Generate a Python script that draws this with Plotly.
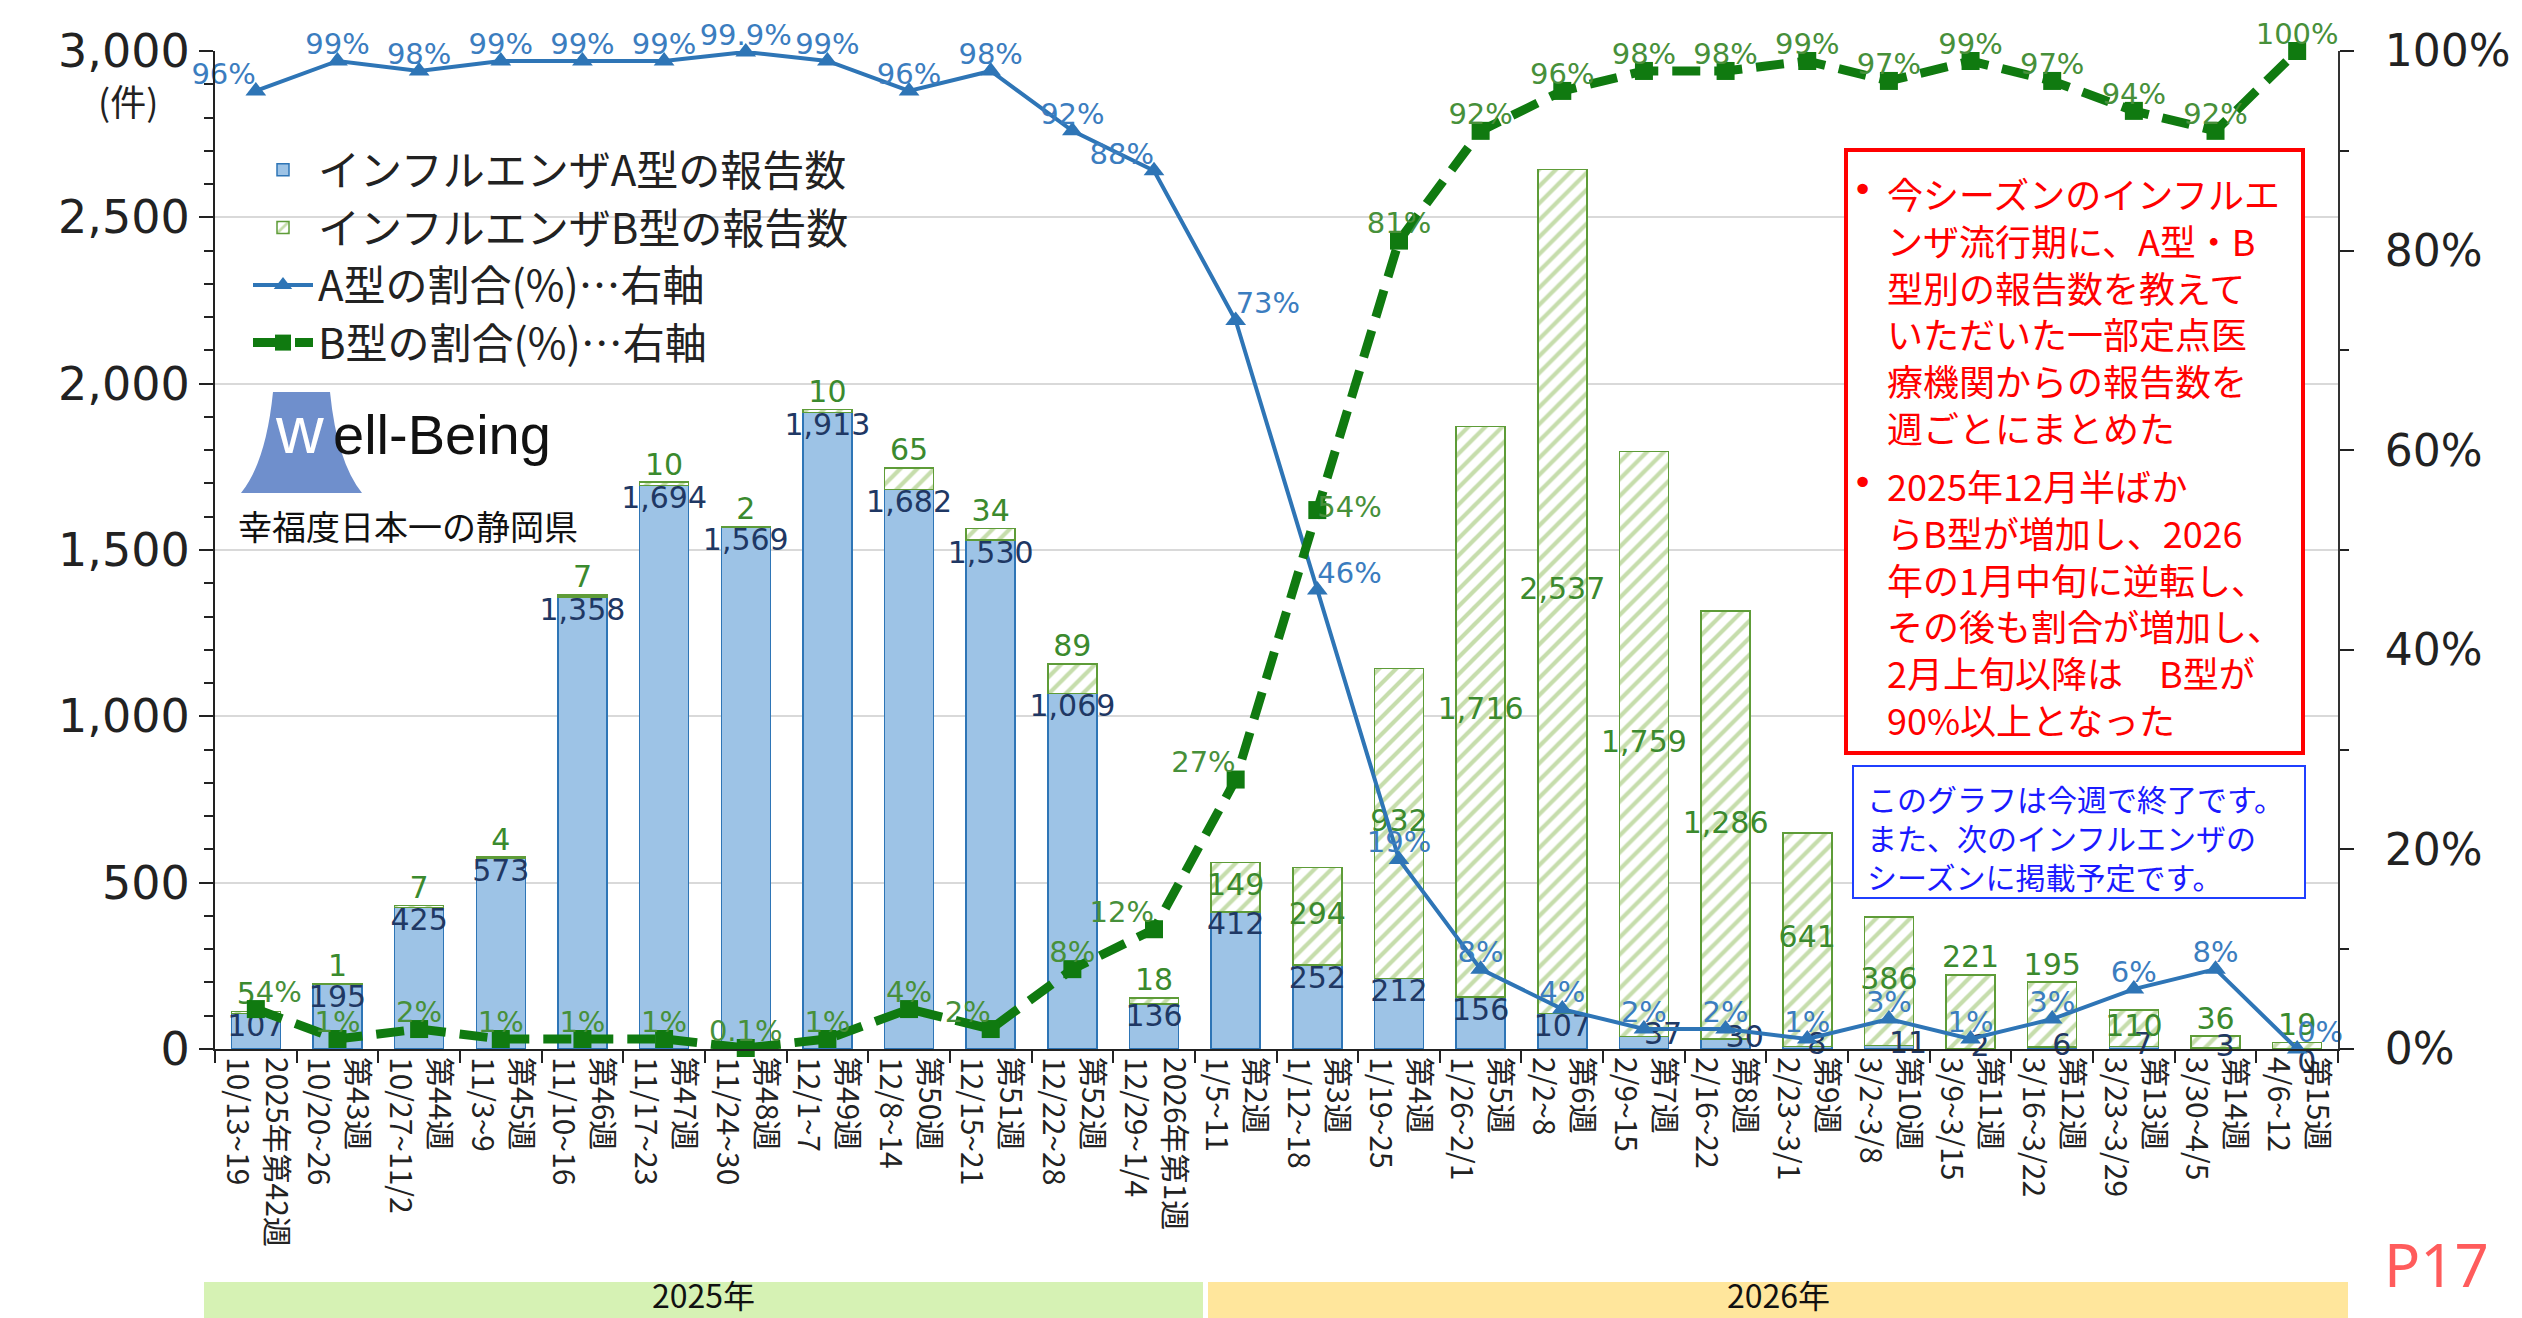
import plotly.graph_objects as go

# ---------------- data ----------------
week_labels = ["2025年第42週", "第43週", "第44週", "第45週", "第46週", "第47週", "第48週",
               "第49週", "第50週", "第51週", "第52週", "2026年第1週", "第2週", "第3週",
               "第4週", "第5週", "第6週", "第7週", "第8週", "第9週", "第10週", "第11週",
               "第12週", "第13週", "第14週", "第15週"]
date_labels = ["10/13~19", "10/20~26", "10/27~11/2", "11/3~9", "11/10~16", "11/17~23",
               "11/24~30", "12/1~7", "12/8~14", "12/15~21", "12/22~28", "12/29~1/4",
               "1/5~11", "1/12~18", "1/19~25", "1/26~2/1", "2/2~8", "2/9~15", "2/16~22",
               "2/23~3/1", "3/2~3/8", "3/9~3/15", "3/16~3/22", "3/23~3/29", "3/30~4/5",
               "4/6~12"]
a_counts = [107, 195, 425, 573, 1358, 1694, 1569, 1913, 1682, 1530, 1069, 136, 412, 252,
            212, 156, 107, 37, 30, 8, 11, 2, 6, 7, 3, 0]
b_counts = [5, 1, 7, 4, 7, 10, 2, 10, 65, 34, 89, 18, 149, 294, 932, 1716, 2537, 1759,
            1286, 641, 386, 221, 195, 110, 36, 19]
a_share = [96, 99, 98, 99, 99, 99, 99.9, 99, 96, 98, 92, 88, 73, 46, 19, 8, 4, 2, 2, 1,
           3, 1, 3, 6, 8, 0]
b_share = [4, 1, 2, 1, 1, 1, 0.1, 1, 4, 2, 8, 12, 27, 54, 81, 92, 96, 98, 98, 99, 97,
           99, 97, 94, 92, 100]
left_ticks = [0, 500, 1000, 1500, 2000, 2500, 3000]
right_ticks = [0, 20, 40, 60, 80, 100]

# ---------------- layout constants (screen pixels) ----------------
SW, SH = 2522, 1318          # browser window
OFF = 8                      # default page body margin
FW, FH = SW - OFF, SH - OFF  # figure size
L, R, T, B = 215, 2338, 51, 1049   # plot area on screen
JP = "Noto Sans CJK JP"
NUM = "DejaVu Sans"


def fx(x):
    return (x - L) / (R - L)


def fy(y):
    return (B - y) / (B - T)


cats = [f"{w}<br>{d}" for w, d in zip(week_labels, date_labels)]
n = len(cats)

# label placement styles (not data)
a_pct_pos = ["top center"] * n
for i, p in {0: "top left", 11: "top left", 12: "top right", 13: "top right",
             25: "top right"}.items():
    a_pct_pos[i] = p
b_pct_pos = ["top center"] * n
for i, p in {0: "top right", 9: "top left", 11: "top left", 12: "top left",
             13: "middle right"}.items():
    b_pct_pos[i] = p
b_label_mode = ["top"] * 12 + ["mid"] * 9 + ["top", "top", "mid", "top", "top"]

a_lab_y, a_lab_pos = [], []
for a in a_counts:
    if a >= 100:
        a_lab_y.append(a); a_lab_pos.append("bottom center")
    elif a > 0:
        a_lab_y.append(a); a_lab_pos.append("middle right")
    else:
        a_lab_y.append(0); a_lab_pos.append("bottom right")

b_lab_y, b_lab_pos = [], []
for a, b, m in zip(a_counts, b_counts, b_label_mode):
    if m == "mid":
        b_lab_y.append(a + b / 2); b_lab_pos.append("middle center")
    else:
        b_lab_y.append(a + b); b_lab_pos.append("top center")
b_lab_pos[0] = "top left"

fig = go.Figure()

fig.add_trace(go.Bar(
    x=cats, y=a_counts, name="インフルエンザA型の報告数",
    marker=dict(color="#9dc3e6", line=dict(color="#2e75b6", width=1.5)),
    hoverinfo="skip"))
fig.add_trace(go.Bar(
    x=cats, y=b_counts, name="インフルエンザB型の報告数",
    marker=dict(color="#ffffff", line=dict(color="#5e9c38", width=1.5),
                pattern=dict(shape="/", fgcolor="#8dbb5a", bgcolor="#ffffff",
                             size=12, solidity=0.35)),
    hoverinfo="skip"))

# bar value labels
fig.add_trace(go.Scatter(
    x=cats, y=a_lab_y, mode="text", text=[f"{v:,}" for v in a_counts],
    textposition=a_lab_pos, textfont=dict(family=NUM, size=30, color="#1f3864"),
    showlegend=False, cliponaxis=False, hoverinfo="skip"))
fig.add_trace(go.Scatter(
    x=cats, y=b_lab_y, mode="text", text=[f"{v:,}" for v in b_counts],
    textposition=b_lab_pos, textfont=dict(family=NUM, size=30, color="#3b8a2e"),
    showlegend=False, cliponaxis=False, hoverinfo="skip"))

# share lines
fig.add_trace(go.Scatter(
    x=cats, y=a_share, name="A型の割合(%)…右軸", yaxis="y2", mode="lines+markers",
    line=dict(color="#2e75b6", width=4),
    marker=dict(symbol="triangle-up", size=18, color="#2e75b6"),
    cliponaxis=False, hoverinfo="skip"))
fig.add_trace(go.Scatter(
    x=cats, y=b_share, name="B型の割合(%)…右軸", yaxis="y2", mode="lines+markers",
    line=dict(color="#107a10", width=9, dash="28px,14px"),
    marker=dict(symbol="square", size=18, color="#107a10"),
    cliponaxis=False, hoverinfo="skip"))

fig.add_trace(go.Scatter(
    x=cats, y=a_share, yaxis="y2", mode="text", text=[f"{v:g}%" for v in a_share],
    textposition=a_pct_pos, textfont=dict(family=NUM, size=29, color="#3b7dbf"),
    showlegend=False, cliponaxis=False, hoverinfo="skip"))
fig.add_trace(go.Scatter(
    x=cats, y=b_share, yaxis="y2", mode="text", text=[f"{v:g}%" for v in b_share],
    textposition=b_pct_pos, textfont=dict(family=NUM, size=29, color="#47903a"),
    showlegend=False, cliponaxis=False, hoverinfo="skip"))

shapes = []
annotations = []


def note(text, x, y, size, color, family=JP, xanchor="center", yanchor="middle",
         **kw):
    annotations.append(dict(text=text, xref="paper", yref="paper", x=fx(x), y=fy(y),
                            xanchor=xanchor, yanchor=yanchor, showarrow=False,
                            font=dict(family=family, size=size, color=color), **kw))


# year bands
shapes.append(dict(type="rect", xref="paper", yref="paper", x0=fx(204), x1=fx(1203),
                   y0=fy(1318), y1=fy(1282), fillcolor="#d6f2b4", line=dict(width=0),
                   layer="below"))
shapes.append(dict(type="rect", xref="paper", yref="paper", x0=fx(1208), x1=fx(2348),
                   y0=fy(1318), y1=fy(1282), fillcolor="#ffe69c", line=dict(width=0),
                   layer="below"))
note("2025年", 703, 1294, 32, "#111")
note("2026年", 1778, 1294, 32, "#111")

# P17
note("P17", 2436, 1264, 60, "#ff5c5c", family="Noto Sans")
# (件)
note("(件)", 128, 100, 36, "#222")

# logo
path = (f"M {fx(241)},{fy(493)} Q {fx(266)},{fy(462)} {fx(273)},{fy(392)} "
        f"L {fx(330)},{fy(392)} Q {fx(337)},{fy(462)} {fx(362)},{fy(493)} Z")
shapes.append(dict(type="path", xref="paper", yref="paper", path=path,
                   fillcolor="#6f8fcc", line=dict(width=0), layer="above"))
note("w", 299, 430, 66, "#ffffff", family="Liberation Sans")
note("ell-Being", 331, 434, 56, "#111", family="Liberation Sans", xanchor="left")
note("幸福度日本一の静岡県", 236, 525, 34, "#111", xanchor="left")

# red note box
shapes.append(dict(type="rect", xref="paper", yref="paper", x0=fx(1846), x1=fx(2303),
                   y0=fy(753), y1=fy(150), fillcolor="#ffffff",
                   line=dict(color="#ff0000", width=4), layer="above"))
red = "#ff0000"
para1 = ("今シーズンのインフルエ<br>ンザ流行期に、A型・B<br>型別の報告数を教えて<br>"
         "いただいた一部定点医<br>療機関からの報告数を<br>週ごとにまとめた")
para2 = ("2025年12月半ばか<br>らB型が増加し、2026<br>年の1月中旬に逆転し、<br>"
         "その後も割合が増加し、<br>2月上旬以降は　B型が<br>90%以上となった")
note(para1, 1886, 166, 36, red, xanchor="left", yanchor="top", align="left", borderpad=0)
note(para2, 1886, 458, 36, red, xanchor="left", yanchor="top", align="left", borderpad=0)
for yb in (190, 482):
    note("•", 1862, yb, 36, red, family=NUM)

# blue note box
shapes.append(dict(type="rect", xref="paper", yref="paper", x0=fx(1853), x1=fx(2305),
                   y0=fy(898), y1=fy(766), fillcolor="#ffffff",
                   line=dict(color="#1f3fff", width=2), layer="above"))
blue_txt = "このグラフは今週で終了です。<br>また、次のインフルエンザの<br>シーズンに掲載予定です。"
note(blue_txt, 1866, 775, 30, "#1a1aff", xanchor="left", yanchor="top", align="left",
     borderpad=0)

fig.update_layout(
    width=FW, height=FH,
    margin=dict(l=L - OFF, r=SW - R, t=T - OFF, b=SH - B, autoexpand=False),
    paper_bgcolor="#ffffff", plot_bgcolor="#ffffff",
    barmode="stack", bargap=0.4,
    font=dict(family=JP, color="#222"),
    showlegend=True,
    legend=dict(x=fx(248), y=fy(136), xanchor="left", yanchor="top",
                bgcolor="rgba(0,0,0,0)", traceorder="normal", itemwidth=60,
                font=dict(family=JP, size=42, color="#222"), tracegroupgap=0),
    xaxis=dict(type="category", range=[-0.5, n - 0.5], automargin=False,
               tickson="boundaries", ticks="outside", ticklen=12,
               tickwidth=2, tickcolor="#222", showline=True, linecolor="#222",
               linewidth=2, tickangle=90, showgrid=False,
               tickfont=dict(family=JP, size=30, color="#222")),
    yaxis=dict(range=[0, 3000], automargin=False, tickvals=left_ticks,
               ticktext=[f"{v:,}" for v in left_ticks],
               ticks="outside", ticklen=14, tickwidth=2, tickcolor="#222",
               showline=True, linecolor="#222", linewidth=2,
               showgrid=True, gridcolor="#d9d9d9", gridwidth=2, zeroline=False,
               minor=dict(dtick=100, ticks="outside", ticklen=9, tickwidth=2,
                          tickcolor="#222", showgrid=False),
               tickfont=dict(family=NUM, size=46, color="#222")),
    yaxis2=dict(range=[0, 100], automargin=False, overlaying="y", side="right",
                tickvals=right_ticks, ticktext=[f"{v}%" for v in right_ticks],
                ticks="outside", ticklen=14, tickwidth=2, tickcolor="#222",
                showline=True, linecolor="#333", linewidth=2, showgrid=False,
                zeroline=False, ticklabelstandoff=22,
                minor=dict(dtick=10, ticks="outside", ticklen=9, tickwidth=2,
                           tickcolor="#222", showgrid=False),
                tickfont=dict(family=NUM, size=44, color="#222")),
    shapes=shapes, annotations=annotations,
)

fig.write_html("out.html")
